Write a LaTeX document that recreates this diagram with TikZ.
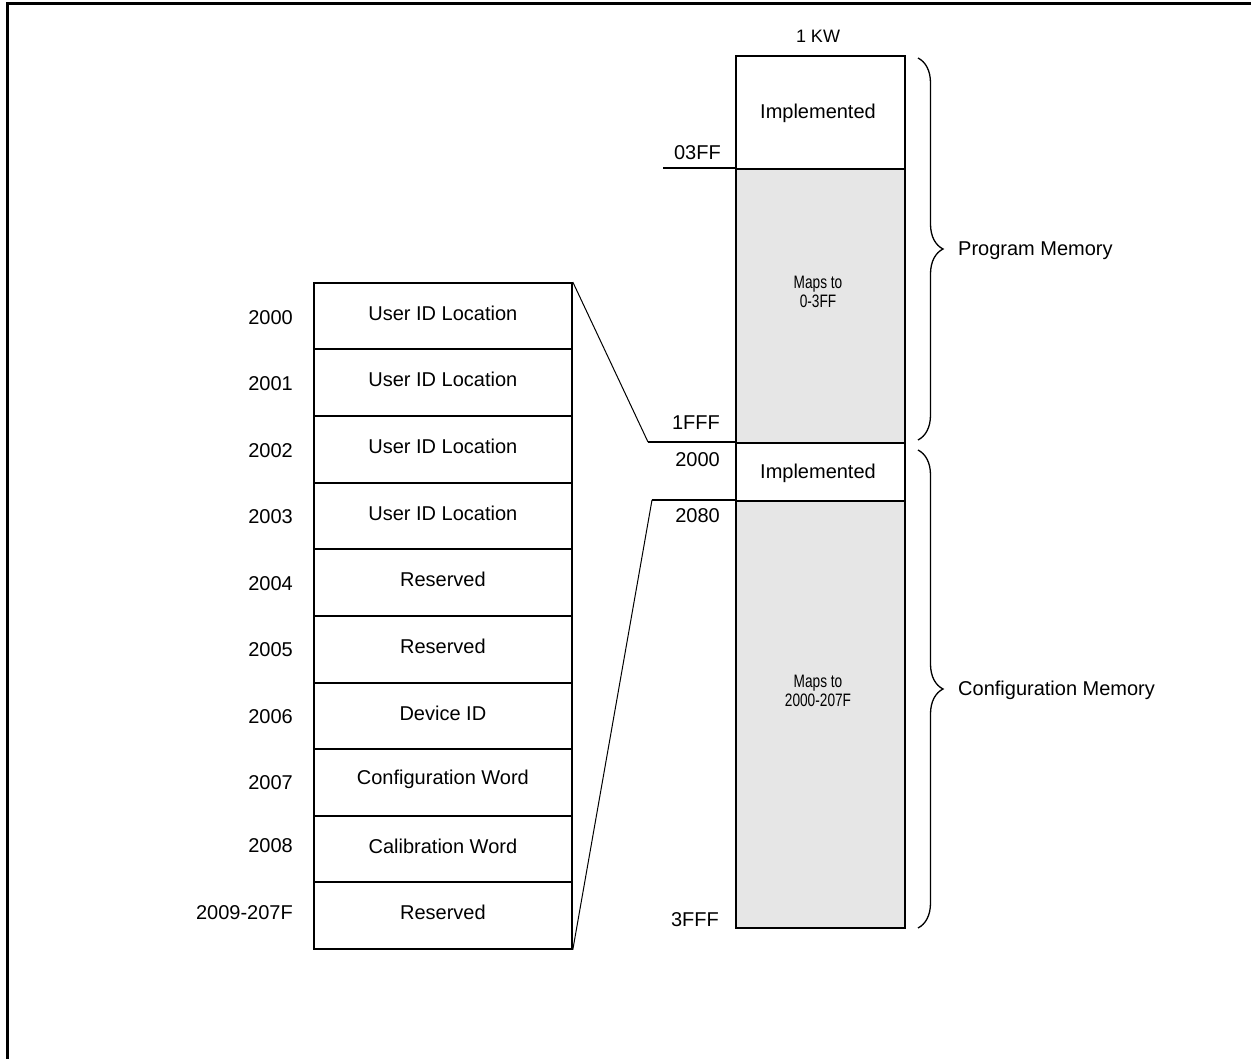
\documentclass[tikz,border=0pt]{standalone}
\usepackage{fontspec}
\setmainfont{Liberation Sans}
\newfontfamily\narrowfont[FakeStretch=0.76]{Liberation Sans}
\usetikzlibrary{decorations.pathreplacing}
\definecolor{memgray}{HTML}{E6E6E6}
\begin{document}
\begin{tikzpicture}[x=1pt,y=-1pt,
  cell/.style={draw, line width=1.8pt, minimum width=258pt, minimum height=66.6pt, inner sep=0pt, anchor=north west,
    label={[font=\fontsize{20}{24}\selectfont, yshift=3pt]center:#1}},
  addr/.style={anchor=east, inner sep=0pt, font=\fontsize{20}{24}\selectfont},
  mem/.style={draw, line width=1.8pt, minimum width=169pt, inner sep=0pt, anchor=north west},
  gray/.style={fill=memgray},
  maptext/.style={align=center, font=\narrowfont\fontsize{18}{18.5}\selectfont},
  conn/.style={line width=1pt},
  tick/.style={line width=1.8pt},
  bracestyle/.style={line width=1.3pt, decorate, decoration={brace, amplitude=25pt}},
  side/.style={anchor=west, inner sep=0pt, font=\fontsize{20}{24}\selectfont}]
\useasboundingbox (0,0) rectangle (1251,1059);
% frame
\coordinate (fbl) at (7,1059);
\coordinate (ftl) at (7,4);
\coordinate (ftr) at (1251,4);
\draw[line width=3pt] (fbl) -- (ftl) -- (ftr);

% right memory column
\node[mem, minimum height=113pt] (impl) at (735,55) {};
\node[font=\fontsize{20}{24}\selectfont] (impltext) at (818,113) {Implemented};
\node[mem, gray, minimum height=274pt] (pmap) at (735,168) {};
\node[maptext] (pmaptext) at (818,292) {Maps to\\0-3FF};
\node[mem, minimum height=58pt] (cimpl) at (735,442) {};
\node[font=\fontsize{20}{24}\selectfont] (cimpltext) at (818,473) {Implemented};
\node[mem, gray, minimum height=427pt] (cmap) at (735,500) {};
\node[maptext] (cmaptext) at (818,691) {Maps to\\2000-207F};
\node[font=\fontsize{18}{20}\selectfont] (kw) at (818,36) {1 KW};

% address ticks
\coordinate (a03) at (663,168);
\coordinate (a1f) at (648,442);
\coordinate (a20) at (652,500);
\draw[tick] (a03) -- (pmap.north west);
\draw[tick] (a1f) -- (cimpl.north west);
\draw[tick] (a20) -- (cmap.north west);
\node[addr] (l03) at (721,153) {03FF};
\node[addr] (l1f) at (720,423) {1FFF};
\node[addr] (l20) at (720,460) {2000};
\node[addr] (l208) at (720,516) {2080};
\node[addr] (l3f) at (719,920) {3FFF};

% braces
\coordinate (pb1) at (918,58);
\coordinate (pb2) at (918,440);
\coordinate (cb1) at (918,450);
\coordinate (cb2) at (918,928);
\draw[bracestyle] (pb1) -- (pb2);
\draw[bracestyle] (cb1) -- (cb2);
\node[side] (pm) at (958,251) {Program Memory};
\node[side] (cm) at (958,690) {Configuration Memory};

% left table
\node[cell=User ID Location] (r0) at (313,282) {};
\node[cell=User ID Location] (r1) at (313,348) {};
\node[cell=User ID Location] (r2) at (313,415) {};
\node[cell=User ID Location] (r3) at (313,482) {};
\node[cell=Reserved] (r4) at (313,548) {};
\node[cell=Reserved] (r5) at (313,615) {};
\node[cell=Device ID] (r6) at (313,682) {};
\node[cell=Configuration Word] (r7) at (313,748) {};
\node[cell=Calibration Word] (r8) at (313,815) {};
\node[cell=Reserved] (r9) at (313,881.4) {};

\node[addr] (t0) at (293,318) {2000};
\node[addr] (t1) at (293,384) {2001};
\node[addr] (t2) at (293,451) {2002};
\node[addr] (t3) at (293,517) {2003};
\node[addr] (t4) at (293,584) {2004};
\node[addr] (t5) at (293,650) {2005};
\node[addr] (t6) at (293,717) {2006};
\node[addr] (t7) at (293,783) {2007};
\node[addr] (t8) at (293,846) {2008};
\node[addr] (t9) at (293,913) {2009-207F};

% connectors
\draw[conn] (r0.north east) -- (a1f);
\draw[conn] (r9.south east) -- (a20);
\end{tikzpicture}
\end{document}
